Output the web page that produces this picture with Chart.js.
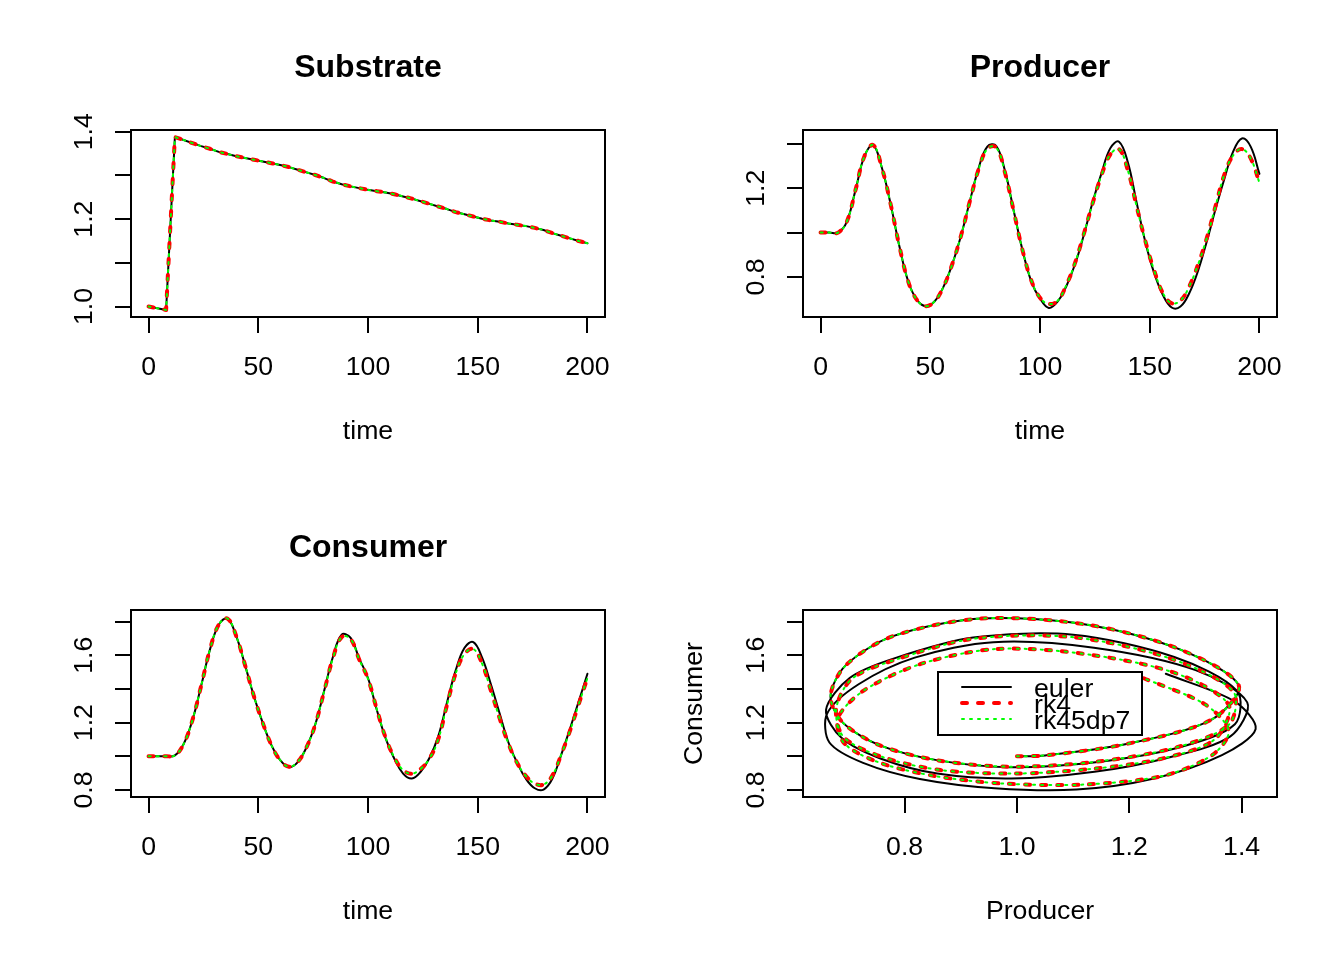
<!DOCTYPE html>
<html>
<head>
<meta charset="utf-8">
<title>Substrate / Producer / Consumer</title>
<script src="https://cdn.jsdelivr.net/npm/chart.js@4.4.1/dist/chart.umd.min.js"></script>
<style>
  html, body { margin:0; padding:0; background:#fff; }
  #wrap { position:relative; width:1344px; height:960px; }
  #wrap canvas { position:absolute; }
</style>
</head>
<body>
<div id="wrap">
  <canvas id="cSub"   width="672" height="480" style="left:0;top:0"></canvas>
  <canvas id="cProd"  width="672" height="480" style="left:672px;top:0"></canvas>
  <canvas id="cCons"  width="672" height="480" style="left:0;top:480px"></canvas>
  <canvas id="cPhase" width="672" height="480" style="left:672px;top:480px"></canvas>
</div>
<script>
// output times
const times = [0,4,8,12,16,20,24,28,32,36,40,44,48,52,56,60,64,68,72,76,
  80,84,88,92,96,100,104,108,112,116,120,124,128,132,136,140,144,148,152,156,
  160,164,168,172,176,180,184,188,192,196,200];

// substrate: the three methods lie on top of each other
const substrate = [1.000,0.996,0.992,1.388,1.381,1.374,1.367,1.361,1.354,1.349,
  1.344,1.340,1.336,1.332,1.328,1.324,1.319,1.313,1.307,1.301,
  1.294,1.286,1.280,1.275,1.271,1.267,1.264,1.261,1.257,1.252,
  1.247,1.241,1.235,1.229,1.223,1.216,1.211,1.206,1.201,1.197,
  1.194,1.190,1.187,1.184,1.180,1.175,1.168,1.162,1.156,1.150,
  1.145];

const producerEuler = [1.000,1.000,1.000,1.050,1.195,1.345,1.395,1.290,1.125,0.935,
  0.778,0.695,0.668,0.690,0.755,0.857,0.986,1.140,1.290,1.388,
  1.392,1.280,1.100,0.922,0.780,0.702,0.660,0.688,0.758,0.858,
  0.990,1.138,1.267,1.380,1.410,1.318,1.137,0.958,0.818,0.718,
  0.662,0.666,0.726,0.827,0.960,1.106,1.242,1.365,1.425,1.388,
  1.265];
const producerRk4 = [1.000,1.000,1.000,1.050,1.195,1.345,1.395,1.290,1.125,0.935,
  0.778,0.695,0.668,0.690,0.755,0.857,0.986,1.140,1.285,1.378,
  1.385,1.272,1.098,0.922,0.785,0.706,0.678,0.692,0.763,0.864,
  0.995,1.133,1.258,1.352,1.377,1.282,1.120,0.962,0.830,0.727,
  0.681,0.693,0.757,0.855,0.975,1.120,1.262,1.348,1.377,1.335,
  1.225];
const producerRk45 = producerRk4; // rk45dp7 sits exactly on rk4

const consumerEuler = [1.000,1.000,1.000,1.005,1.073,1.215,1.420,1.635,1.782,1.818,
  1.712,1.540,1.357,1.200,1.066,0.977,0.935,0.965,1.054,1.190,
  1.388,1.590,1.722,1.705,1.580,1.465,1.276,1.108,0.985,0.897,
  0.868,0.908,0.990,1.118,1.320,1.512,1.645,1.678,1.586,1.428,
  1.254,1.082,0.961,0.865,0.810,0.802,0.866,1.007,1.162,1.325,
  1.490];
const consumerRk4 = [1.000,1.000,1.000,1.005,1.073,1.215,1.420,1.635,1.782,1.818,
  1.712,1.540,1.357,1.200,1.066,0.977,0.938,0.967,1.054,1.190,
  1.385,1.582,1.708,1.698,1.575,1.460,1.280,1.112,0.993,0.918,
  0.897,0.925,0.986,1.100,1.305,1.494,1.608,1.637,1.550,1.390,
  1.225,1.075,0.960,0.882,0.838,0.832,0.885,1.008,1.150,1.308,
  1.465];
const consumerRk45 = consumerRk4;

const methods = ['euler', 'rk4', 'rk45dp7'];

// axis ticks and printed labels
const timeTicks = [0, 50, 100, 150, 200];
const substrateTicks = [1.0, 1.1, 1.2, 1.3, 1.4];
const substrateLabels = [1.0, 1.2, 1.4];
const producerTicks = [0.8, 1.0, 1.2, 1.4];
const producerLabels = [0.8, 1.2];
const consumerTicks = [0.8, 1.0, 1.2, 1.4, 1.6, 1.8];
const consumerLabels = [0.8, 1.2, 1.6];
const phaseXTicks = [0.8, 1.0, 1.2, 1.4];

const FONT = '"Liberation Sans", Arial, Helvetica, sans-serif';
const LBL = '26.67px ' + FONT;

const styleOf = {
  euler:   {borderColor:'#000000', borderWidth:2, borderDash:[],     order:3},
  rk4:     {borderColor:'#ff0000', borderWidth:4, borderDash:[5,11], order:2},
  rk45dp7: {borderColor:'#00ff00', borderWidth:2, borderDash:[2,6],  order:1}
};

const pts = (xs, ys) => xs.map((x, i) => ({x: x, y: ys[i]}));

function makeDataset(name, data, tension) {
  const s = styleOf[name];
  return {
    label: name, data: data,
    borderColor: s.borderColor, borderWidth: s.borderWidth, borderDash: s.borderDash,
    borderCapStyle: 'round', borderJoinStyle: 'round',
    order: s.order, pointRadius: 0, fill: false, tension: tension
  };
}

// R-like frame: box, tick labels, titles, optional legend
function frame(cfg) {
  return {
    id: 'frame',
    afterDatasetsDraw(chart) {
      const ctx = chart.ctx, ca = chart.chartArea;
      const xs = chart.scales.x, ys = chart.scales.y;
      const cx = (ca.left + ca.right) / 2, cy = (ca.top + ca.bottom) / 2;
      ctx.save();
      ctx.strokeStyle = '#000'; ctx.lineWidth = 2; ctx.setLineDash([]);
      ctx.strokeRect(ca.left, ca.top, ca.right - ca.left, ca.bottom - ca.top);
      ctx.fillStyle = '#000';
      ctx.textAlign = 'center'; ctx.textBaseline = 'alphabetic';
      ctx.font = LBL;
      cfg.xLabels.forEach(v => ctx.fillText(cfg.xFmt(v), xs.getPixelForValue(v), ca.bottom + 58));
      cfg.yLabels.forEach(v => {
        ctx.save();
        ctx.translate(ca.left - 39, ys.getPixelForValue(v));
        ctx.rotate(-Math.PI / 2);
        ctx.fillText(v.toFixed(1), 0, 0);
        ctx.restore();
      });
      if (cfg.xTitle) ctx.fillText(cfg.xTitle, cx, ca.bottom + 122);
      if (cfg.yTitle) {
        ctx.save();
        ctx.translate(ca.left - 101, cy);
        ctx.rotate(-Math.PI / 2);
        ctx.fillText(cfg.yTitle, 0, 0);
        ctx.restore();
      }
      if (cfg.title) {
        ctx.font = 'bold 32px ' + FONT;
        ctx.fillText(cfg.title, cx, ca.top - 53);
      }
      if (cfg.legend) {
        const w = 204, h = 63, L = cx - w / 2, T = cy - h / 2;
        ctx.fillStyle = '#fff';
        ctx.fillRect(L, T, w, h);
        ctx.strokeStyle = '#000'; ctx.lineWidth = 2;
        ctx.strokeRect(L, T, w, h);
        ctx.font = LBL; ctx.textAlign = 'left';
        chart.data.datasets.forEach((ds, i) => {
          const y = T + 15 + i * 16;
          ctx.save();
          ctx.strokeStyle = ds.borderColor; ctx.lineWidth = ds.borderWidth;
          ctx.lineCap = 'round'; ctx.setLineDash(ds.borderDash);
          ctx.beginPath(); ctx.moveTo(L + 24, y); ctx.lineTo(L + 73, y); ctx.stroke();
          ctx.restore();
          ctx.fillStyle = '#000';
          ctx.fillText(ds.label, L + 96, y + 9.5);
        });
      }
      ctx.restore();
    }
  };
}

function axis(pos, range, ticks) {
  return {
    type: 'linear', position: pos, min: range[0], max: range[1],
    afterBuildTicks: s => { s.ticks = ticks.map(v => ({value: v})); },
    afterFit: s => { if (pos === 'bottom') s.height = 0; else s.width = 0; },
    grid: {drawOnChartArea: false, drawTicks: true, tickLength: 16, color: '#000', lineWidth: 2},
    border: {display: false},
    ticks: {display: false}
  };
}

function panel(id, datasets, xRange, xTicks, yRange, yTicks, cfg) {
  new Chart(document.getElementById(id), {
    type: 'line',
    data: {datasets: datasets},
    options: {
      responsive: false, animation: false, devicePixelRatio: 1, events: [],
      layout: {padding: {left: 131, right: 67, top: 130, bottom: 163}},
      plugins: {legend: {display: false}, tooltip: {enabled: false}},
      scales: {x: axis('bottom', xRange, xTicks), y: axis('left', yRange, yTicks)}
    },
    plugins: [frame(cfg)]
  });
}

const timeRange = [-8, 208];
const fmtInt = v => String(v);
const fmt1 = v => v.toFixed(1);

panel('cSub',
  methods.map(m => makeDataset(m, pts(times, substrate), 0)),
  timeRange, timeTicks, [0.976, 1.404], substrateTicks,
  {title: 'Substrate', xTitle: 'time', xLabels: timeTicks, xFmt: fmtInt, yLabels: substrateLabels});

const prodSeries = {euler: producerEuler, rk4: producerRk4, rk45dp7: producerRk45};
panel('cProd',
  methods.map(m => makeDataset(m, pts(times, prodSeries[m]), 0.4)),
  timeRange, timeTicks, [0.619, 1.463], producerTicks,
  {title: 'Producer', xTitle: 'time', xLabels: timeTicks, xFmt: fmtInt, yLabels: producerLabels});

const consSeries = {euler: consumerEuler, rk4: consumerRk4, rk45dp7: consumerRk45};
panel('cCons',
  methods.map(m => makeDataset(m, pts(times, consSeries[m]), 0.4)),
  timeRange, timeTicks, [0.758, 1.869], consumerTicks,
  {title: 'Consumer', xTitle: 'time', xLabels: timeTicks, xFmt: fmtInt, yLabels: consumerLabels});

panel('cPhase',
  methods.map(m => makeDataset(m, pts(prodSeries[m], consSeries[m]), 0.3)),
  [0.619, 1.463], phaseXTicks, [0.758, 1.869], consumerTicks,
  {xTitle: 'Producer', yTitle: 'Consumer', xLabels: phaseXTicks, xFmt: fmt1, yLabels: consumerLabels, legend: true});
</script>
</body>
</html>
